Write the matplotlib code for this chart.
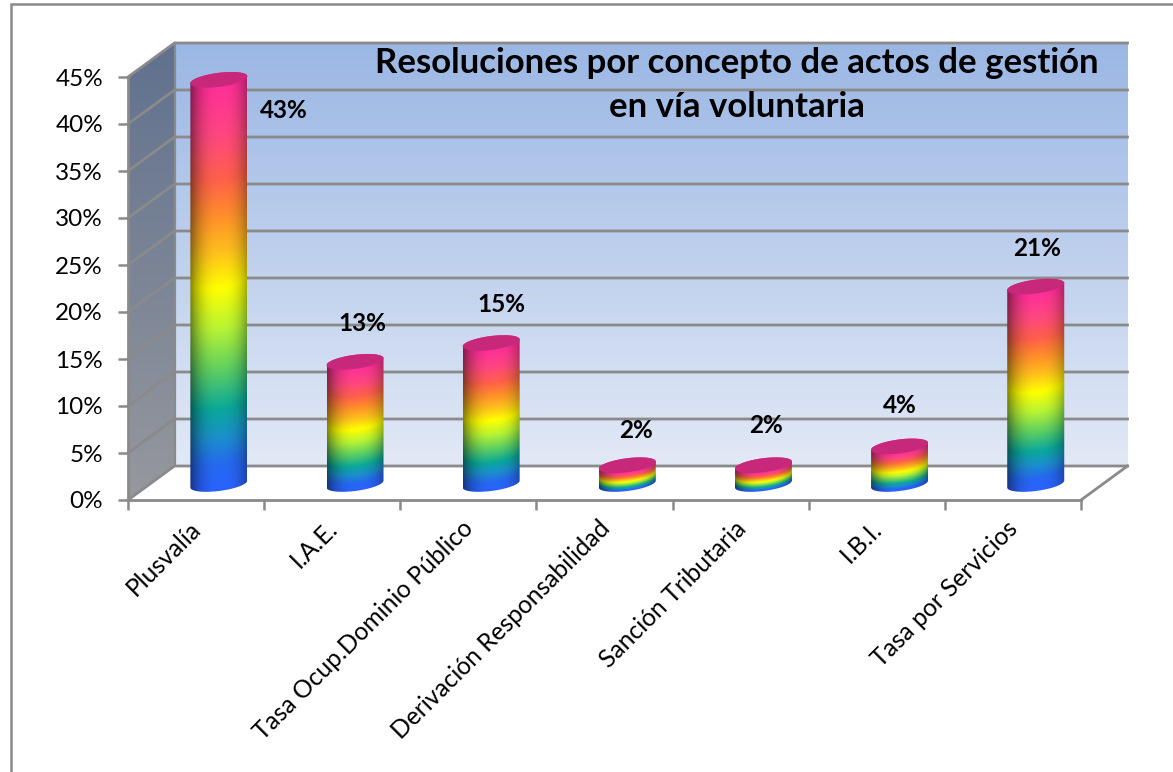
import numpy as np
import matplotlib
matplotlib.use("Agg")
import matplotlib.pyplot as plt
from matplotlib.colors import LinearSegmentedColormap, to_rgb
from matplotlib.patches import Polygon, Rectangle

categories = ["Plusvalía", "I.A.E.", "Tasa Ocup.Dominio Público",
              "Derivación Responsabilidad", "Sanción Tributaria", "I.B.I.", "Tasa por Servicios"]
values = [43, 13, 15, 2, 2, 4, 21]
value_labels = ["43%", "13%", "15%", "2%", "2%", "4%", "21%"]
y_ticks = [0, 5, 10, 15, 20, 25, 30, 35, 40, 45]
title = "Resoluciones por concepto de actos de gestión\nen vía voluntaria"

# layout of labels: pixel offset from the top centre of each cylinder
label_dx = [65, 7, 10, 9, 3, 0, 1]
label_dy = [-31, 38, 38, 35, 40, 41, 38]

W, H = 1173, 772
plt.rcParams["font.family"] = ["Lato", "DejaVu Sans"]
fig = plt.figure(figsize=(W / 100, H / 100), dpi=100, facecolor="white")
L, R, T, B = 128, 1081, 77, 500
ax = fig.add_axes([L / W, 1 - B / H, (R - L) / W, (B - T) / H])
ax.set_xlim(0, 7)
ax.set_ylim(0, 45)
ax.set_facecolor("none")
sx = (R - L) / 7
sy = (B - T) / 45
GRAY = "#8a8a8a"

fig.add_artist(Rectangle((11 / W, -0.1), 1.2, 1.1 - 4 / H, transform=fig.transFigure,
                         fc="none", ec=GRAY, lw=1.8, zorder=0))

dx = 46.5 / sx
dy = 34.0 / sy


def vgrad(c_bottom, c_top):
    a, b = np.array(to_rgb(c_bottom)), np.array(to_rgb(c_top))
    t = np.linspace(0, 1, 256)[:, None, None]
    return a * t + b * (1 - t)


# back wall
ax.imshow(vgrad("#E2E9F6", "#9BB7E4"), extent=(dx, 7 + dx, dy, 45 + dy), aspect="auto",
          zorder=1, clip_on=False, interpolation="bilinear")
# side wall
side = Polygon([(0, 0), (dx, dy), (dx, 45 + dy), (0, 45)], transform=ax.transData, fc="none", ec="none", clip_on=False)
ax.add_patch(side)
im = ax.imshow(vgrad("#96989E", "#60718E"), extent=(0, dx, 0, 45 + dy), aspect="auto",
               zorder=1, interpolation="bilinear")
im.set_clip_box(fig.bbox)
im.set_clip_path(side)
ax.set_xlim(0, 7)
ax.set_ylim(0, 45)

# gridlines
for v in y_ticks:
    ax.plot([0, dx, 7 + dx], [v, v + dy, v + dy], color=GRAY, lw=2.0, clip_on=False, zorder=2,
            solid_joinstyle="miter")
ax.plot([dx, dx], [dy, 45 + dy], color=GRAY, lw=1.6, clip_on=False, zorder=2)
ax.plot([7, 7 + dx], [0, dy], color=GRAY, lw=2.0, clip_on=False, zorder=2)

# cylinders
cmap = LinearSegmentedColormap.from_list("rain", [
    (0.00, "#2A62FF"), (0.06, "#2668F2"), (0.13, "#1B8FCB"), (0.20, "#0AA89A"),
    (0.30, "#60D060"), (0.40, "#B8F434"), (0.50, "#FFFF00"), (0.59, "#FFC01C"),
    (0.68, "#FF8E2A"), (0.77, "#FF604A"), (0.88, "#FF4680"), (1.00, "#FF2F98")])
A = 28.5          # half width, px
Bm = 7.0          # ellipse half height, px
TILT = 3.5        # rise of the right end, px
OX, OY = 22.8, 16.0   # shift of the cylinder axis from the front plane, px

for i, val in enumerate(values):
    cx = i + 0.5 + OX / sx
    y0 = OY / sy
    y1 = y0 + val
    th_low = np.linspace(np.pi, 2 * np.pi, 80)
    th_up = np.linspace(0, np.pi, 80)
    ex = lambda th: cx + A * np.cos(th) / sx
    ey = lambda th, yc: yc + (Bm * np.sin(th) + TILT * np.cos(th)) / sy
    outline = np.r_[np.c_[ex(th_low), ey(th_low, y0)], np.c_[ex(th_up), ey(th_up, y1)]]
    clip = Polygon(outline, transform=ax.transData, fc="none", ec="none", clip_on=False)
    ax.add_patch(clip)
    # shaded body, bands follow the lower ellipse
    hpx = val * sy
    ny = int(hpx + 24) * 2
    nx = 90
    u = np.linspace(-1, 1, nx)
    ypx = np.linspace(hpx + 10, -12, ny)
    U, Y = np.meshgrid(u, ypx)
    s = np.sqrt(1 - U ** 2)
    front = -Bm * s + TILT * U
    tv = np.clip((Y - front) / hpx, 0, 1)
    rgb = cmap(tv)[..., :3]
    shade = 1 - 0.48 * np.abs((U - 0.08) / 1.08) ** 2.6
    rgb = rgb * shade[..., None]
    body = ax.imshow(rgb, extent=(cx - A / sx, cx + A / sx, y0 - 12 / sy, y0 + (hpx + 10) / sy),
                     aspect="auto", zorder=5, interpolation="bilinear")
    body.set_clip_box(fig.bbox)
    body.set_clip_path(clip)
    th = np.linspace(0, 2 * np.pi, 120)
    ax.add_patch(Polygon(np.c_[ex(th), ey(th, y1)], fc="#C8287A", ec="none", zorder=6, clip_on=False))
    ax.text(cx + label_dx[i] / sx, y1 + label_dy[i] / sy, value_labels[i], ha="center", va="center",
            fontsize=17.5, fontweight="bold", color="black", zorder=8, clip_on=False)

ax.set_xlim(0, 7)
ax.set_ylim(0, 45)

# axes
for s_name in ("top", "right"):
    ax.spines[s_name].set_visible(False)
for s_name in ("left", "bottom"):
    ax.spines[s_name].set_color(GRAY)
    ax.spines[s_name].set_linewidth(2.0)
    ax.spines[s_name].set_zorder(3)
ax.set_yticks(y_ticks)
ax.set_yticklabels([f"{v}%" for v in y_ticks], fontsize=17.5, color="black")
ax.set_xticks(np.arange(0, 8))
ax.set_xticklabels([])
ax.set_xticks(np.arange(7) + 0.45, minor=True)
ax.set_xticklabels(categories, minor=True, rotation=45, ha="right", va="top",
                   rotation_mode="anchor", fontsize=17.7, color="black")
ax.tick_params(axis="y", length=7, width=1.8, color=GRAY, pad=11)
ax.tick_params(axis="x", which="major", length=7, width=1.8, color=GRAY)
ax.tick_params(axis="x", which="minor", length=0, pad=12)

fig.text(737 / W, 1 - 85 / H, title, ha="center", va="center", fontsize=25, fontweight="bold",
         color="black", linespacing=1.44, zorder=10)

fig.savefig("out.png", dpi=100)
